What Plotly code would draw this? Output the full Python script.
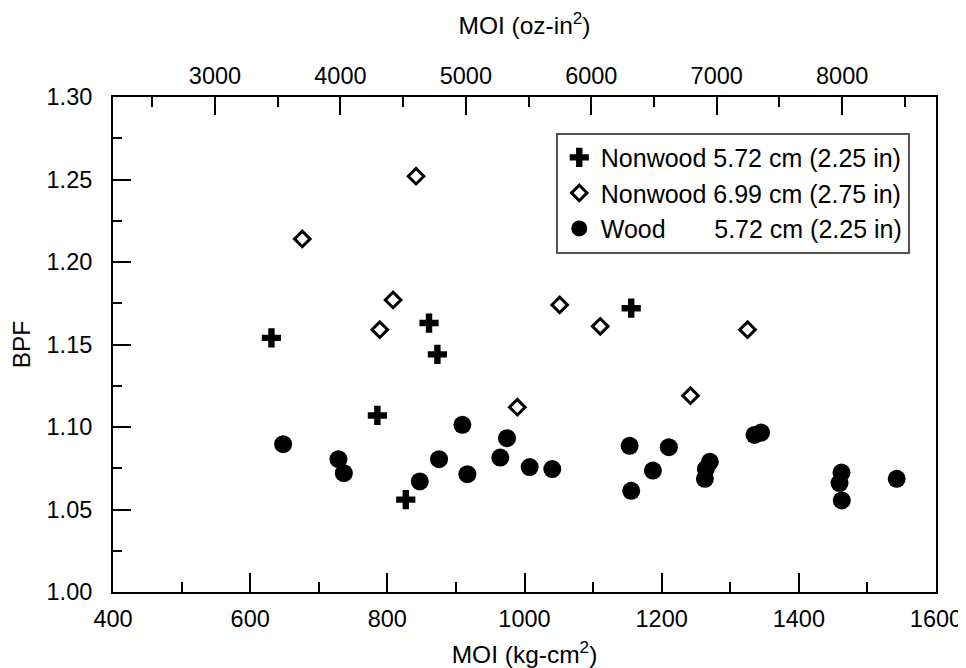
import plotly.graph_objects as go

# Conversion factor: 1 kg-cm^2 = 5.4675 oz-in^2
OZIN_PER_KGCM2 = 5.4675

x_range = [400, 1600]
y_range = [1.00, 1.30]

series_names = [
    "Nonwood 5.72 cm (2.25 in)",
    "Nonwood 6.99 cm (2.75 in)",
    "Wood\u00a0\u00a0\u00a0\u00a0\u00a0\u00a0\u00a05.72 cm (2.25 in)",
]

nw225_moi = [631, 785.5, 826.9, 860.8, 873, 1155.6]
nw225_bpf = [1.154, 1.107, 1.056, 1.163, 1.144, 1.172]

nw275_moi = [676, 789, 808.4, 841.9, 989.5, 1051.3, 1110.4, 1242, 1325.2]
nw275_bpf = [1.214, 1.159, 1.177, 1.252, 1.112, 1.174, 1.161, 1.119, 1.159]

wood_moi = [648.1, 728.7, 736.6, 847.3, 875.4, 909.4, 916.7, 964.7, 974.5,
            1007.6, 1040.5, 1153.3, 1155.6, 1187.2, 1210.5, 1263, 1264.4,
            1270.3, 1335.4, 1345, 1459.3, 1462.2, 1462.6, 1542.7]
wood_bpf = [1.0896, 1.0805, 1.072, 1.067, 1.0805, 1.1013, 1.0714, 1.0815,
            1.0932, 1.0757, 1.0745, 1.0886, 1.0613, 1.0736, 1.0878, 1.0686,
            1.0746, 1.0789, 1.0952, 1.0966, 1.066, 1.0724, 1.0555, 1.0686]

FONT = "Liberation Sans, Arial, sans-serif"

fig = go.Figure()
fig.add_trace(go.Scatter(
    x=nw225_moi, y=nw225_bpf, mode="markers", name=series_names[0],
    legendgroup="a",
    marker=dict(symbol="cross", size=16, color="black", line=dict(width=0)),
))
fig.add_trace(go.Scatter(
    x=nw275_moi, y=nw275_bpf, mode="markers", name=series_names[1],
    legendgroup="b",
    marker=dict(symbol="diamond-open", size=12, color="black",
                line=dict(width=3, color="black")),
))
fig.add_trace(go.Scatter(
    x=wood_moi, y=wood_bpf, mode="markers", name=series_names[2],
    legendgroup="c",
    marker=dict(symbol="circle", size=18, color="black", line=dict(width=0)),
))
# invisible trace to activate the secondary (top) axis
fig.add_trace(go.Scatter(
    x=[v * OZIN_PER_KGCM2 for v in wood_moi], y=wood_bpf, xaxis="x2",
    mode="markers", marker=dict(opacity=0), showlegend=False, hoverinfo="skip",
))

axis_common = dict(
    showline=True, linecolor="black", linewidth=2, showgrid=False, zeroline=False,
    ticks="inside", tickcolor="black", tickwidth=1.5, automargin=False,
    tickfont=dict(family=FONT, size=23.5, color="black"),
)

fig.update_layout(
    width=958, height=660,
    margin=dict(l=105, r=30, t=89, b=76, autoexpand=False),
    paper_bgcolor="white", plot_bgcolor="white",
    font=dict(family=FONT, color="black"),
    showlegend=True,
    legend=dict(
        x=0.538, y=0.928, xanchor="left", yanchor="top",
        bgcolor="white", bordercolor="#555555", borderwidth=2,
        font=dict(family=FONT, size=25, color="black"),
        tracegroupgap=0, itemsizing="trace", itemwidth=33,
    ),
    xaxis=dict(
        range=x_range, dtick=200, ticklen=19, mirror=False,
        minor=dict(dtick=100, ticks="inside", ticklen=10, tickcolor="black", tickwidth=1.5),
        ticklabelstandoff=5,
        title=dict(text="MOI (kg-cm<sup>2</sup>)", font=dict(family=FONT, size=24.5), standoff=16),
        **axis_common,
    ),
    xaxis2=dict(
        range=[x_range[0] * OZIN_PER_KGCM2, x_range[1] * OZIN_PER_KGCM2],
        overlaying="x", side="top", anchor="y", dtick=1000, ticklen=18,
        minor=dict(dtick=500, ticks="inside", ticklen=10, tickcolor="black", tickwidth=1.5),
        ticklabelstandoff=2,
        title=dict(text="MOI (oz-in<sup>2</sup>)", font=dict(family=FONT, size=24.5), standoff=24),
        **axis_common,
    ),
    yaxis=dict(
        range=y_range, dtick=0.05, tickformat=".2f", ticklen=18, mirror=True,
        minor=dict(dtick=0.025, ticks="inside", ticklen=9, tickcolor="black", tickwidth=1.5),
        ticklabelstandoff=14,
        title=dict(text="BPF", font=dict(family=FONT, size=24.5), standoff=13),
        **axis_common,
    ),
)

fig.write_html("out.html")
